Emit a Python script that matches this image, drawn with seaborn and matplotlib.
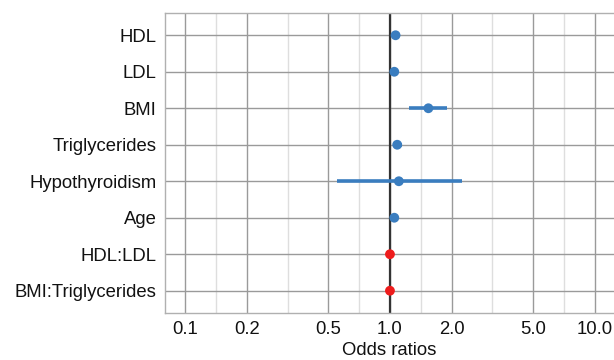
import matplotlib
matplotlib.use("Agg")
import matplotlib.pyplot as plt
import seaborn as sns
import pandas as pd
import numpy as np
from matplotlib.ticker import FixedLocator, FixedFormatter

# odds ratios with 95% CI
terms = ['HDL', 'LDL', 'BMI', 'Triglycerides', 'Hypothyroidism', 'Age',
         'HDL:LDL', 'BMI:Triglycerides']
odds = [1.065, 1.05, 1.54, 1.085, 1.105, 1.05, 1.0, 1.0]
ci_low = [1.04, 1.035, 1.24, 1.04, 0.55, 1.035, 0.995, 0.995]
ci_high = [1.09, 1.065, 1.89, 1.14, 2.24, 1.065, 1.005, 1.005]
kind = ['main', 'main', 'main', 'main', 'main', 'main', 'interaction', 'interaction']

major_ticks = [0.1, 0.2, 0.5, 1.0, 2.0, 5.0, 10.0]
tick_labels = ['0.1', '0.2', '0.5', '1.0', '2.0', '5.0', '10.0']

df = pd.DataFrame({'term': terms, 'odds': odds, 'low': ci_low,
                   'high': ci_high, 'kind': kind})

sns.set_style('white')
plt.rcParams['font.family'] = ['Liberation Sans', 'DejaVu Sans']

fig = plt.figure(figsize=(6.14, 3.6), dpi=100)
ax = fig.add_axes([0.2687, 0.1306, 0.7313, 0.8333])
ax.set_xscale('log')

palette = {'main': '#3a7dbf', 'interaction': '#ee1c1c'}

# confidence intervals (drawn first so the categories keep their order)
ax.hlines(df['term'], df['low'], df['high'],
          colors=[palette[k] for k in df['kind']], linewidth=2.6, zorder=3)

sns.scatterplot(data=df, x='odds', y='term', hue='kind', palette=palette,
                s=50, edgecolor='none', legend=False, zorder=4, ax=ax)

ax.axvline(1.0, color='#333333', linewidth=1.6, zorder=2)

ax.set_xlim(0.0798, 12.4)
ax.set_ylim(len(terms) - 1 + 0.61, -0.61)

# minor grid at the geometric middle between major ticks
minor = [np.sqrt(a * b) for a, b in zip(major_ticks[:-1], major_ticks[1:])]
ax.xaxis.set_major_locator(FixedLocator(major_ticks))
ax.xaxis.set_major_formatter(FixedFormatter(tick_labels))
ax.xaxis.set_minor_locator(FixedLocator(minor))
ax.xaxis.set_minor_formatter(FixedFormatter([''] * len(minor)))

ax.grid(True, which='major', axis='both', color='#9a9a9a', linewidth=1.0, zorder=0)
ax.grid(True, which='minor', axis='x', color='#dedede', linewidth=1.0, zorder=0)
ax.set_axisbelow(True)

for side in ['left', 'bottom', 'top']:
    ax.spines[side].set_color('#b0b0b0')
    ax.spines[side].set_linewidth(1.0)
ax.spines['right'].set_visible(False)

ax.tick_params(axis='both', which='major', length=4, color='#9a9a9a',
               labelsize=13.3, pad=2, labelcolor='#111111')
ax.tick_params(axis='x', which='minor', length=4, color='#dedede')

ax.set_xlabel('Odds ratios', fontsize=13.3, labelpad=3, color='#111111')
ax.set_ylabel('')

fig.savefig('out.png', dpi=100)
